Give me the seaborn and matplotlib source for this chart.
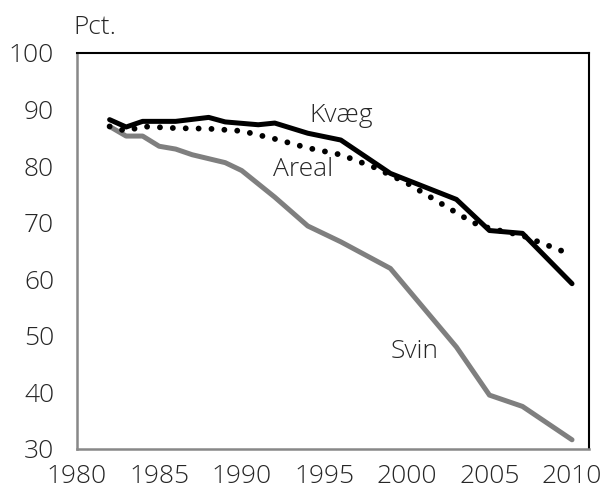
import matplotlib
matplotlib.use('Agg')
import matplotlib.pyplot as plt
import seaborn as sns
import pandas as pd

# ── data ──
kvaeg_aar = [1982, 1983, 1984, 1986, 1988, 1989, 1991, 1992, 1994, 1996,
             1999, 2003, 2005, 2007, 2010]
kvaeg_pct = [88.2, 86.9, 87.9, 87.9, 88.6, 87.8, 87.3, 87.6, 85.8, 84.6,
             78.7, 74.1, 68.6, 68.1, 59.2]

areal_aar = [1982, 1983, 1984, 1986, 1988, 1990, 1992, 1994, 1996, 1998,
             2000, 2002, 2004, 2005, 2007, 2010]
areal_pct = [87.0, 86.2, 87.0, 86.7, 86.6, 86.2, 84.8, 83.2, 82.0, 79.8,
             77.0, 73.5, 70.0, 69.0, 67.7, 64.3]

svin_aar = [1982, 1983, 1984, 1985, 1986, 1987, 1988, 1989, 1990, 1992,
            1994, 1996, 1999, 2003, 2005, 2007, 2010]
svin_pct = [87.0, 85.3, 85.3, 83.5, 83.0, 82.0, 81.3, 80.6, 79.2, 74.5,
            69.4, 66.6, 61.9, 48.0, 39.5, 37.5, 31.6]

x_ticks = [1980, 1985, 1990, 1995, 2000, 2005, 2010]
y_ticks = [30, 40, 50, 60, 70, 80, 90, 100]

sns.set_style('white')
plt.rcParams['font.family'] = ['Open Sans', 'DejaVu Sans']
plt.rcParams['font.weight'] = 'light'
plt.rcParams['font.size'] = 19

fig = plt.figure(figsize=(6.03, 4.90), dpi=100)
ax = fig.add_axes([0.127, 0.084, 0.849, 0.808])

kvaeg = pd.DataFrame({'aar': kvaeg_aar, 'pct': kvaeg_pct})
areal = pd.DataFrame({'aar': areal_aar, 'pct': areal_pct})
svin = pd.DataFrame({'aar': svin_aar, 'pct': svin_pct})

sns.lineplot(data=svin, x='aar', y='pct', ax=ax, color='#7f7f7f', lw=3.6,
             solid_capstyle='round')
sns.lineplot(data=areal, x='aar', y='pct', ax=ax, color='black', lw=4.2,
             linestyle=(0, (0.01, 2.2)), dash_capstyle='round')
sns.lineplot(data=kvaeg, x='aar', y='pct', ax=ax, color='black', lw=3.6,
             solid_capstyle='round')

ax.text(1994.1, 88.9, 'Kvæg', fontsize=19, va='center', ha='left')
ax.text(1991.9, 79.4, 'Areal', fontsize=19, va='center', ha='left')
ax.text(1999.0, 47.2, 'Svin', fontsize=19, va='center', ha='left')

ax.set_xlim(1980, 2011)
ax.set_ylim(30, 100)
ax.set_xticks(x_ticks)
ax.set_yticks(y_ticks)
ax.set_xlabel('')
ax.set_ylabel('')
ax.tick_params(axis='both', direction='out', length=6.2, width=1.8,
               color='#888888', labelsize=19)
ax.tick_params(axis='y', pad=10)
ax.tick_params(axis='x', pad=4.5)

for side in ['left', 'bottom']:
    ax.spines[side].set_color('#888888')
    ax.spines[side].set_linewidth(1.8)
for side in ['top', 'right']:
    ax.spines[side].set_color('black')
    ax.spines[side].set_linewidth(1.5)

fig.text(0.121, 0.943, 'Pct.', fontsize=19, ha='left', va='center')

plt.savefig('out.png', dpi=100)
plt.close()
